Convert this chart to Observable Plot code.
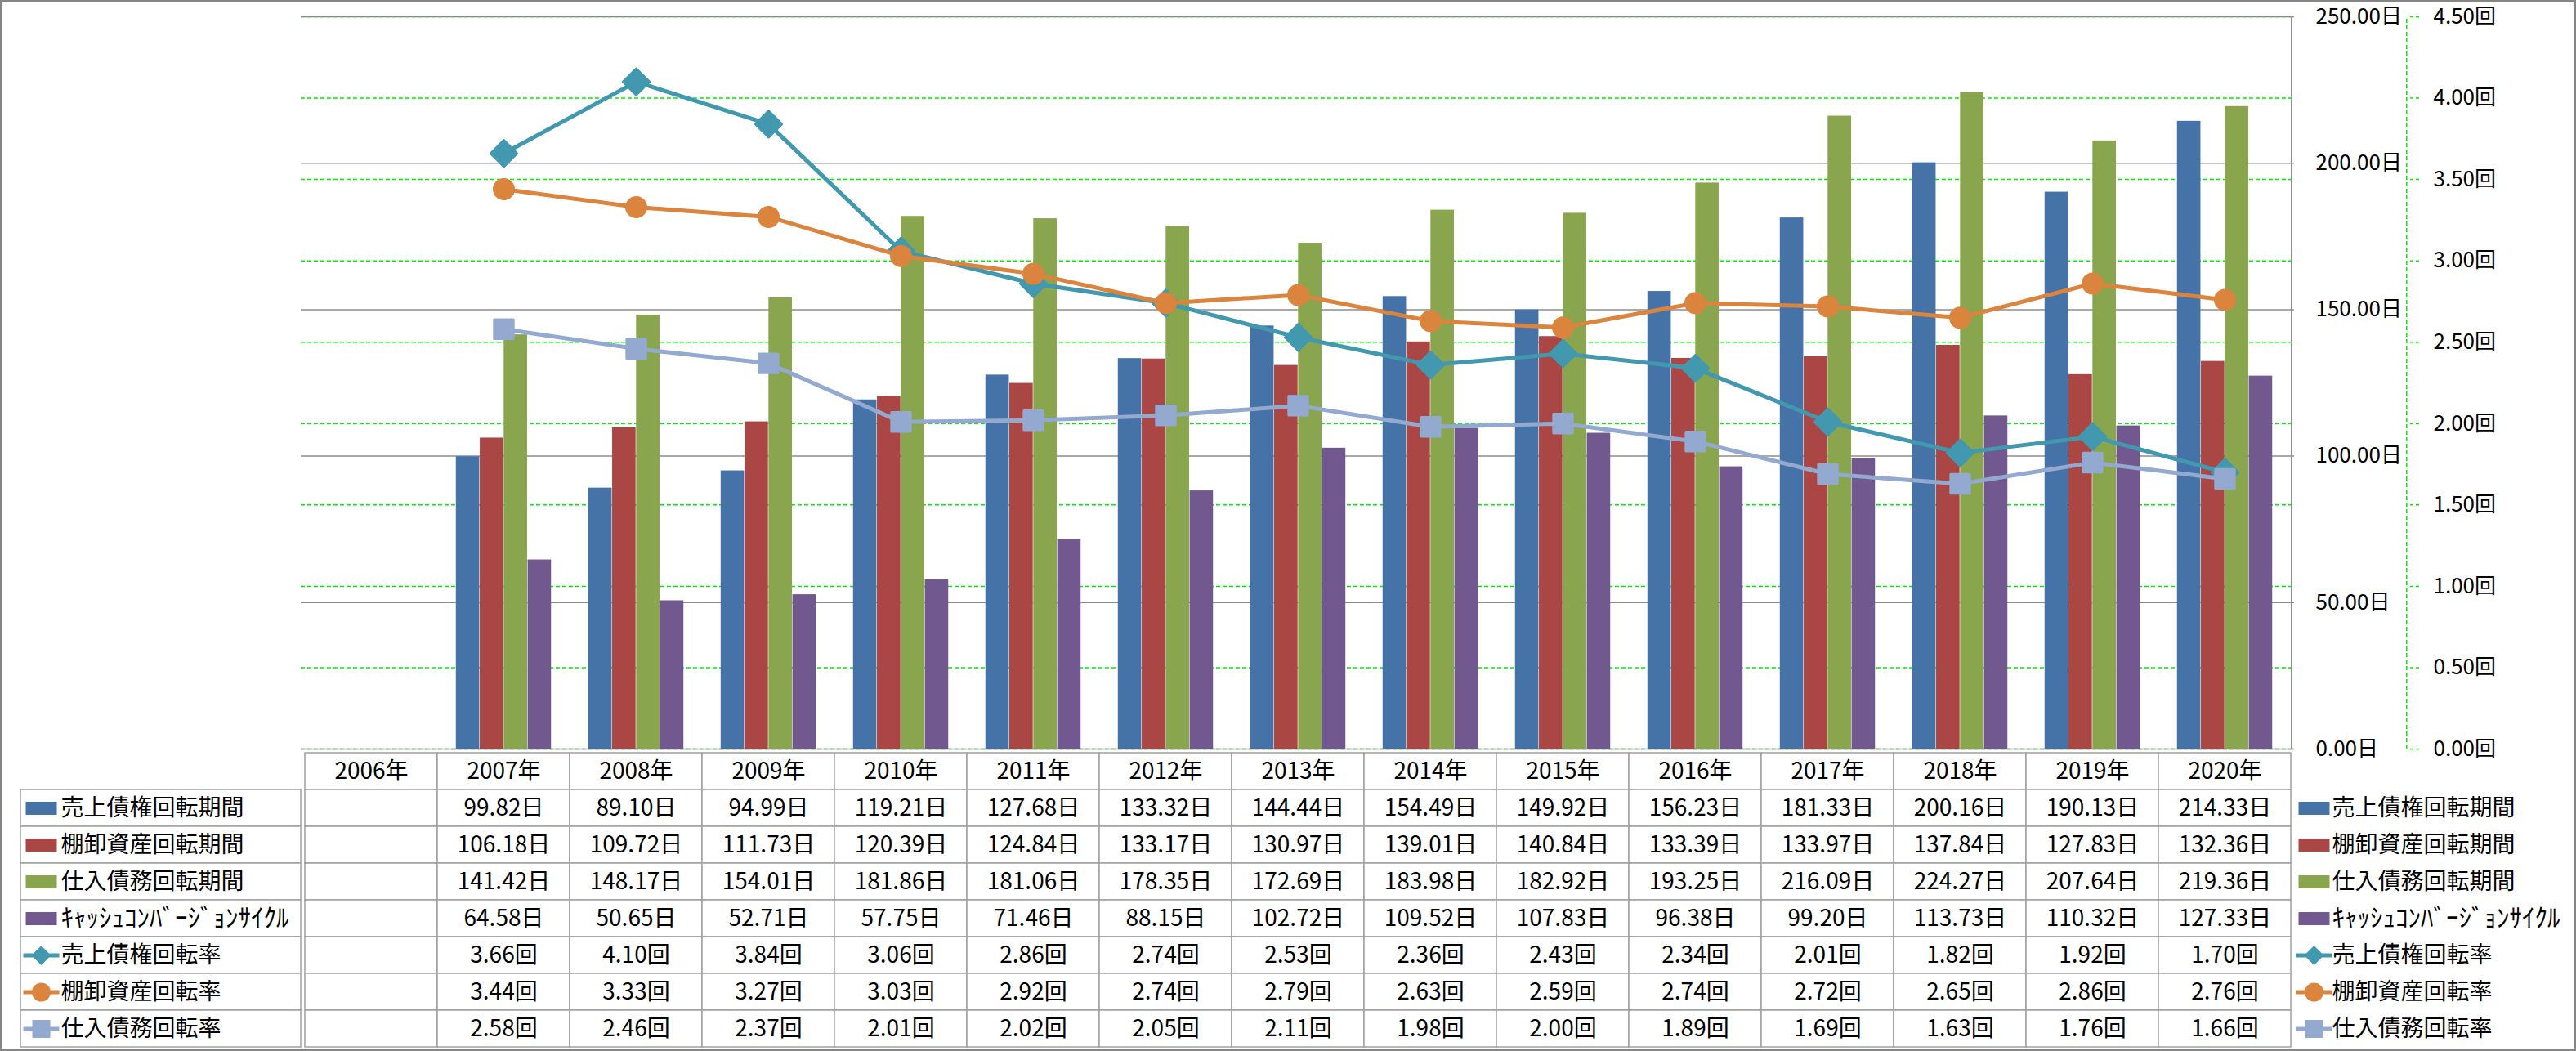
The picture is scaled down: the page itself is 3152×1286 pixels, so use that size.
<!DOCTYPE html>
<html><head><meta charset="utf-8">
<script src="https://cdn.jsdelivr.net/npm/d3@7"></script>
<script src="https://cdn.jsdelivr.net/npm/@observablehq/plot@0.6"></script>
<style>
html,body{margin:0;padding:0;background:#fff;}
#wrap{position:relative;width:3152px;height:1286px;overflow:hidden;background:#fff;}
#wrap svg{display:block;}
#chart svg{overflow:visible;}
#frame{position:absolute;left:0;top:0;width:3152px;height:1286px;box-sizing:border-box;border:2px solid #868686;pointer-events:none;}
</style></head><body>
<div id="wrap"><div id="chart"></div><div id="table"></div><div id="frame"></div></div>
<script>
// ---- data ----
const years = ["2006","2007","2008","2009","2010","2011","2012","2013","2014","2015","2016","2017","2018","2019","2020"];
const arPeriod  = [null, 99.82, 89.10, 94.99, 119.21, 127.68, 133.32, 144.44, 154.49, 149.92, 156.23, 181.33, 200.16, 190.13, 214.33];
const invPeriod = [null, 106.18, 109.72, 111.73, 120.39, 124.84, 133.17, 130.97, 139.01, 140.84, 133.39, 133.97, 137.84, 127.83, 132.36];
const apPeriod  = [null, 141.42, 148.17, 154.01, 181.86, 181.06, 178.35, 172.69, 183.98, 182.92, 193.25, 216.09, 224.27, 207.64, 219.36];
const cccPeriod = [null, 64.58, 50.65, 52.71, 57.75, 71.46, 88.15, 102.72, 109.52, 107.83, 96.38, 99.20, 113.73, 110.32, 127.33];
const arTurn  = [null, 3.66, 4.10, 3.84, 3.06, 2.86, 2.74, 2.53, 2.36, 2.43, 2.34, 2.01, 1.82, 1.92, 1.70];
const invTurn = [null, 3.44, 3.33, 3.27, 3.03, 2.92, 2.74, 2.79, 2.63, 2.59, 2.74, 2.72, 2.65, 2.86, 2.76];
const apTurn  = [null, 2.58, 2.46, 2.37, 2.01, 2.02, 2.05, 2.11, 1.98, 2.00, 1.89, 1.69, 1.63, 1.76, 1.66];
const dayTicks = [0, 50, 100, 150, 200, 250];
const rateTicks = [0, 0.5, 1, 1.5, 2, 2.5, 3, 3.5, 4, 4.5];

const barSeries = [
  {name: "売上債権回転期間", values: arPeriod, color: "#4572A7"},
  {name: "棚卸資産回転期間", values: invPeriod, color: "#AA4643"},
  {name: "仕入債務回転期間", values: apPeriod, color: "#89A54E"},
  {name: "ｷｬｯｼｭｺﾝﾊﾞｰｼﾞｮﾝｻｲｸﾙ", values: cccPeriod, color: "#71588F"}
];
const lineSeries = [
  {name: "売上債権回転率", values: arTurn, color: "#4198AF", symbol: "diamond2", r: 14.5, kind: "diamond"},
  {name: "棚卸資産回転率", values: invTurn, color: "#DB843D", symbol: "circle", r: 12, kind: "circle"},
  {name: "仕入債務回転率", values: apTurn, color: "#93A9CF", symbol: "square", r: 13.2, kind: "square"}
];

// ---- layout ----
const W = 3152, chartH = 917, tableH = 369;
const mL = 368, mR = 345, mT = 20, mB = 1;
const bw = (W - mL - mR) / years.length;
const barW = bw * 0.18;
const gap0 = (bw - 4 * barW) / 2;
const dayMax = dayTicks[dayTicks.length - 1];
const rateMax = rateTicks[rateTicks.length - 1];
const K = dayMax / rateMax; // rate -> day-equivalent on the shared pixel range
const font = "'Noto Sans CJK JP', 'Noto Sans', sans-serif";
const last = years[years.length - 1];

const rows = (vals) => years.map((y, i) => ({year: y, v: vals[i]})).filter(d => d.v != null);

const chartMarks = [
  Plot.ruleY(rateTicks.map(r => r * K), {stroke: "#00ee00", strokeWidth: 1.5, strokeDasharray: "5,3"}),
  Plot.ruleY(dayTicks, {stroke: "#8c8c8c", strokeWidth: 1.5}),
  ...barSeries.map((s, k) => Plot.barY(rows(s.values), {
    x: "year", y: "v", fill: s.color,
    insetLeft: gap0 + k * barW, insetRight: bw - gap0 - (k + 1) * barW
  })),
  Plot.ruleX([last], {y1: 0, y2: dayMax, dx: bw / 2, stroke: "#8c8c8c", strokeWidth: 1.5}),
  Plot.ruleX([last], {y1: 0, y2: dayMax, dx: bw / 2 + 141, stroke: "#00ee00", strokeWidth: 1.5, strokeDasharray: "5,3"}),
  Plot.axisY(dayTicks, {anchor: "right", tickSize: 0, tickPadding: 26, tickFormat: d => d.toFixed(2) + "日", label: null, fill: "#000"}),
  Plot.axisY(rateTicks.map(r => r * K), {anchor: "right", tickSize: 11, tickPadding: 18, dx: 141,
    stroke: "#00ee00", strokeDasharray: "4,3", strokeWidth: 1.5, fill: "#000",
    tickFormat: v => (v / K).toFixed(2) + "回", label: null})
];
for (const s of lineSeries) {
  const d = rows(s.values);
  chartMarks.push(Plot.line(d, {x: "year", y: p => p.v * K, stroke: s.color, strokeWidth: 5, strokeLinejoin: "round"}));
  chartMarks.push(Plot.dot(d, {x: "year", y: p => p.v * K, symbol: s.symbol, r: s.r, fill: s.color, stroke: s.color, strokeWidth: 3, strokeLinejoin: "round"}));
}

const chart = Plot.plot({
  width: W, height: chartH,
  marginLeft: mL, marginRight: mR, marginTop: mT, marginBottom: mB,
  x: {type: "band", domain: years, padding: 0, axis: null},
  y: {domain: [0, dayMax], axis: null},
  style: {fontFamily: font, fontSize: "26px", color: "#000", background: "#fff", overflow: "visible"},
  marks: chartMarks
});
document.getElementById("chart").append(chart);

// ---- data table ----
const allSeries = [
  ...barSeries.map(s => ({...s, unit: "日", line: false})),
  ...lineSeries.map(s => ({...s, unit: "回", line: true}))
];
const rowNames = allSeries.map(s => s.name);
const yDomain = ["hdr", ...rowNames];
const gridCells = [];
for (const r of yDomain) for (const y of years) gridCells.push({year: y, row: r});
const valueCells = [];
for (const s of allSeries) years.forEach((y, i) => {
  if (s.values[i] != null) valueCells.push({year: y, row: s.name, text: s.values[i].toFixed(2) + s.unit});
});
const isHalfWidth = (t) => /[\uFF61-\uFF9F]/.test(t);

const rectSym = {draw(ctx) { ctx.rect(-19, -8, 38, 16); }};
function lineSym(kind) {
  return {draw(ctx) {
    ctx.rect(-22, -2.5, 44, 5);
    if (kind === "diamond") { ctx.moveTo(0, -12); ctx.lineTo(12, 0); ctx.lineTo(0, 12); ctx.lineTo(-12, 0); ctx.closePath(); }
    else if (kind === "circle") { ctx.moveTo(11.5, 0); ctx.arc(0, 0, 11.5, 0, 2 * Math.PI); }
    else { ctx.rect(-11, -11, 22, 22); }
  }};
}

const tableMarks = [
  Plot.cell(gridCells, {x: "year", y: "row", fill: "white", stroke: "#a0a0a0", strokeWidth: 1.5}),
  Plot.cell(rowNames, {y: d => d, fill: "white", stroke: "#a0a0a0", strokeWidth: 1.5, insetLeft: -(mL - 25), insetRight: W - mL - mR}),
  Plot.text(years, {x: d => d, y: () => "hdr", text: d => d + "年", fill: "#000"}),
  Plot.text(valueCells, {x: "year", y: "row", text: "text", fill: "#000"}),
  Plot.text(rowNames, {y: d => d, text: d => d, frameAnchor: "left", dx: 74 - mL, textAnchor: "start", fill: "#000", fontSize: d => isHalfWidth(d) ? 31 : 28}),
  Plot.text(rowNames, {y: d => d, text: d => d, frameAnchor: "right", dx: 46, textAnchor: "start", fill: "#000", fontSize: d => isHalfWidth(d) ? 31 : 28})
];
for (const s of allSeries) {
  const sym = s.line ? lineSym(s.kind) : rectSym;
  tableMarks.push(Plot.dot([s.name], {y: d => d, frameAnchor: "left", dx: 50 - mL, symbol: sym, fill: s.color, stroke: "none"}));
  tableMarks.push(Plot.dot([s.name], {y: d => d, frameAnchor: "right", dx: 24, symbol: sym, fill: s.color, stroke: "none"}));
}

const table = Plot.plot({
  width: W, height: tableH,
  marginLeft: mL, marginRight: mR, marginTop: 0, marginBottom: 2,
  x: {type: "band", domain: years, padding: 0, axis: null},
  y: {type: "band", domain: yDomain, padding: 0, axis: null},
  style: {fontFamily: font, fontSize: "28px", color: "#000", background: "transparent"},
  marks: tableMarks
});
document.getElementById("table").append(table);
</script>
</body></html>
